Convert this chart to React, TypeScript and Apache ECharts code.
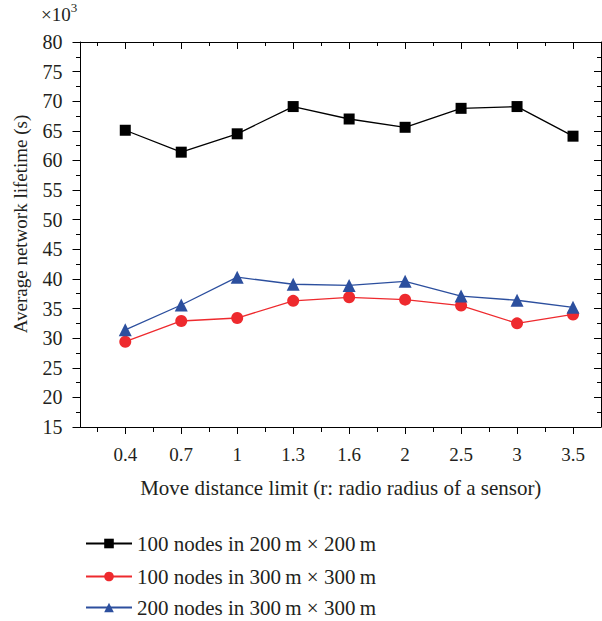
import React, { useEffect, useRef } from "react";
import * as echarts from "echarts";

const categories = ["0.4", "0.7", "1", "1.3", "1.6", "2", "2.5", "3", "3.5"];
const seriesNames = [
  "100 nodes in 200\u2009m \u00d7 200\u2009m",
  "100 nodes in 300\u2009m \u00d7 300\u2009m",
  "200 nodes in 300\u2009m \u00d7 300\u2009m",
];
const black200 = [65.1, 61.4, 64.5, 69.1, 67.0, 65.6, 68.8, 69.1, 64.1];
const red300 = [29.4, 32.9, 33.4, 36.3, 36.9, 36.5, 35.5, 32.5, 34.0];
const blue300 = [31.4, 35.6, 40.3, 39.1, 38.9, 39.6, 37.1, 36.4, 35.2];
const yTicks = { min: 15, max: 80, interval: 5 };

const FONT = "Liberation Serif";
const TXT = "#231f20";
const COLORS = ["#000000", "#ee2a2e", "#2c4f9e"];
const SYMBOLS = ["rect", "circle", "triangle"];
const SIZES = [11, 12, 13];
const LEGEND_TOPS = [533, 566, 597];

export default function App() {
  const ref = useRef<HTMLDivElement>(null);
  useEffect(() => {
    document.body.style.margin = "0";
    const chart = echarts.init(ref.current!, null, { renderer: "svg" });
    const major = categories.map((_, i) => i);
    const minor = [-0.5, ...categories.slice(0, -1).map((_, i) => i + 0.5)];
    const xBase = {
      type: "value" as const,
      min: -0.8,
      max: 8.5,
      gridIndex: 0,
      splitLine: { show: false },
      axisLine: { onZero: false, lineStyle: { color: "#000", width: 1 } },
    };
    const mk = (vals: number[]) => vals.map((v, i) => [i, v]);
    const allData = [black200, red300, blue300];
    chart.setOption({
      animation: false,
      backgroundColor: "#fff",
      textStyle: { fontFamily: FONT },
      grid: { left: 80.5, right: 1, top: 42, bottom: 194, containLabel: false },
      graphic: [
        {
          type: "text",
          left: 41,
          top: 1,
          style: {
            text: "{a|\u00d710}{b|3}",
            rich: {
              a: { fontFamily: FONT, fontSize: 19, fill: TXT, lineHeight: 23, verticalAlign: "bottom" },
              b: { fontFamily: FONT, fontSize: 13, fill: TXT, lineHeight: 23, verticalAlign: "top", padding: [0, 0, 8, 0] },
            },
          },
        },
        {
          type: "text",
          x: 20,
          y: 224,
          rotation: Math.PI / 2,
          style: {
            text: "Average network lifetime (s)",
            fontFamily: FONT,
            fontSize: 19,
            fill: TXT,
            align: "center",
            verticalAlign: "middle",
          },
        },
      ],
      xAxis: [
        {
          ...xBase,
          position: "bottom",
          axisTick: { show: true, customValues: major, length: 7, inside: false, lineStyle: { color: "#000" } },
          axisLabel: {
            customValues: major,
            formatter: (v: number) => categories[Math.round(v)],
            fontSize: 19,
            fontFamily: FONT,
            color: TXT,
            margin: 18,
          },
          name: "Move distance limit (r: radio radius of a sensor)",
          nameLocation: "middle",
          nameGap: 50,
          nameTextStyle: { fontSize: 21, fontFamily: FONT, color: TXT },
        },
        {
          ...xBase,
          position: "bottom",
          axisLine: { show: false, onZero: false },
          axisTick: { show: true, customValues: minor, length: 5, inside: false, lineStyle: { color: "#000" } },
          axisLabel: { show: false },
        },
        {
          ...xBase,
          position: "top",
          axisTick: { show: true, customValues: major, length: 7, inside: true, lineStyle: { color: "#000" } },
          axisLabel: { show: false },
        },
        {
          ...xBase,
          position: "top",
          axisLine: { show: false, onZero: false },
          axisTick: { show: true, customValues: minor, length: 4, inside: true, lineStyle: { color: "#000" } },
          axisLabel: { show: false },
        },
      ],
      yAxis: [
        {
          type: "value",
          position: "left",
          min: yTicks.min,
          max: yTicks.max,
          interval: yTicks.interval,
          splitLine: { show: false },
          axisLine: { show: true, onZero: false, lineStyle: { color: "#000" } },
          axisTick: { show: true, length: 8, inside: false, lineStyle: { color: "#000" } },
          minorTick: { show: true, splitNumber: 2, length: 4.5, lineStyle: { color: "#000" } },
          axisLabel: { fontSize: 20, fontFamily: FONT, color: TXT, margin: 18 },
        },
        {
          type: "value",
          position: "right",
          min: yTicks.min,
          max: yTicks.max,
          interval: yTicks.interval,
          splitLine: { show: false },
          axisLine: { show: true, onZero: false, lineStyle: { color: "#000" } },
          axisTick: { show: true, length: 7, inside: true, lineStyle: { color: "#000" } },
          minorTick: { show: true, splitNumber: 2, length: 4, lineStyle: { color: "#000" } },
          axisLabel: { show: false },
        },
      ],
      legend: seriesNames.map((name, i) => ({
        orient: "vertical",
        left: 85,
        top: LEGEND_TOPS[i],
        padding: 0,
        itemWidth: 46,
        itemHeight: 12,
        itemGap: 6,
        textStyle: { fontSize: 21, fontFamily: FONT, color: TXT, lineHeight: 20 },
        data: [name],
      })),
      series: seriesNames.map((name, i) => ({
        name,
        type: "line",
        xAxisIndex: 0,
        yAxisIndex: 0,
        data: mk(allData[i]),
        symbol: SYMBOLS[i],
        symbolSize: SIZES[i],
        itemStyle: { color: COLORS[i] },
        lineStyle: { color: COLORS[i], width: 1.3 },
      })),
    });
    return () => chart.dispose();
  }, []);
  return <div ref={ref} style={{ width: 602, height: 621 }} />;
}
